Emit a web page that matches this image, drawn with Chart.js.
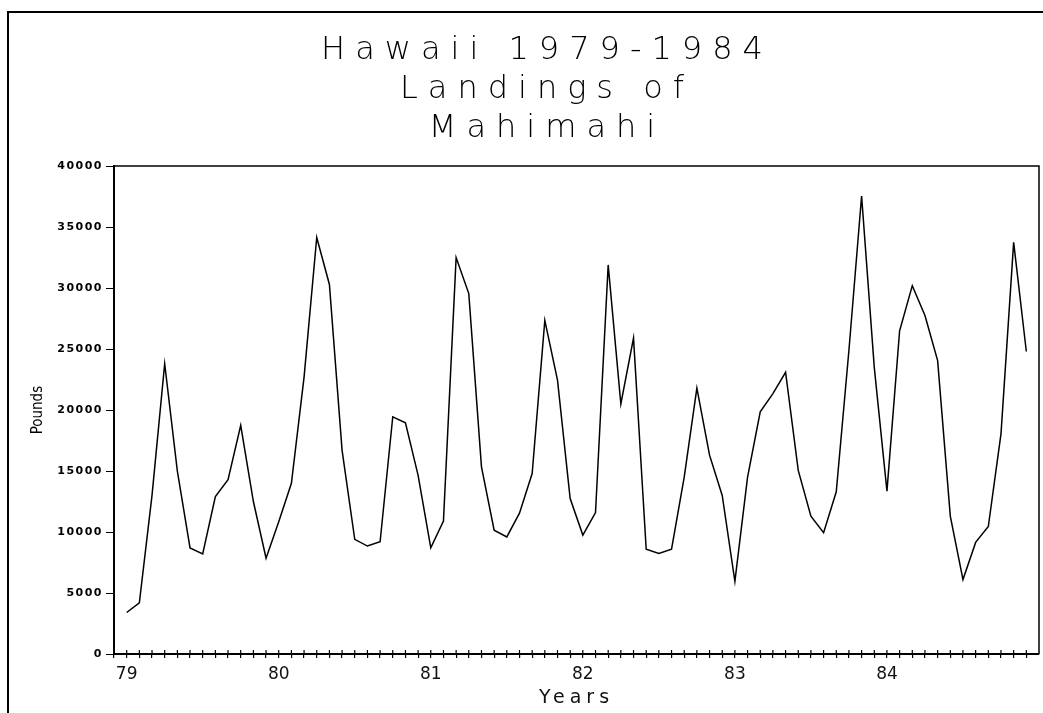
<!DOCTYPE html>
<html>
<head>
<meta charset="utf-8">
<script src="https://cdn.jsdelivr.net/npm/chart.js@4"></script>
<style>
  html, body { margin: 0; padding: 0; background: #fff; overflow: hidden; }
  #frame { position: absolute; left: 7px; top: 11px; width: 2000px; height: 2000px;
           border-left: 2px solid #000; border-top: 2px solid #000; }
  #wrap { position: absolute; left: 0; top: 0; width: 1043px; height: 713px; }
</style>
</head>
<body>
<div id="frame"></div>
<div id="wrap"><canvas id="grafica" width="1043" height="713"></canvas></div>
<script>
// monthly landings, Jan 1979 .. Dec 1984
var yearLabels = ['79', '80', '81', '82', '83', '84'];
var pounds = [
  3400, 4200, 13000, 23800, 15000, 8700, 8200, 12900, 14300, 18750, 12500, 7850,
  10850, 14000, 22700, 34150, 30300, 16700, 9400, 8850, 9200, 19450, 18950, 14650,
  8700, 10900, 32500, 29550, 15350, 10150, 9600, 11550, 14800, 27350, 22450, 12750,
  9750, 11600, 31900, 20500, 25900, 8600, 8250, 8600, 14500, 21800, 16300, 13000,
  5950, 14500, 19850, 21350, 23100, 15050, 11300, 9950, 13300, 24900, 37550, 23500,
  13350, 26500, 30200, 27750, 24050, 11300, 6100, 9150, 10450, 18050, 33750, 24800
];
var titleLines = ['Hawaii 1979-1984', 'Landings of', 'Mahimahi'];

// canvas letterSpacing for the plotter-like wide text
function conEspacio(obj, name, ls) {
  if (!obj || obj['_ls_' + name]) return;
  var orig = obj[name];
  obj[name] = function() {
    var ctx = this.ctx;
    var old = ctx.letterSpacing;
    ctx.letterSpacing = ls;
    orig.apply(this, arguments);
    ctx.letterSpacing = old;
  };
  obj['_ls_' + name] = true;
}

var espaciado = {
  id: 'espaciado',
  beforeDraw: function(chart) {
    conEspacio(chart.titleBlock, 'draw', '10px');
    conEspacio(chart.scales.x, 'drawTitle', '5px');
    conEspacio(chart.scales.y, 'drawLabels', '1.5px');
  }
};

// top/right box lines and the upper half of the x ticks
var marco = {
  id: 'marco',
  afterDraw: function(chart) {
    var ctx = chart.ctx, a = chart.chartArea, sx = chart.scales.x;
    ctx.save();
    ctx.strokeStyle = '#000';
    ctx.lineWidth = 1.5;
    ctx.beginPath();
    ctx.moveTo(a.left, a.top);
    ctx.lineTo(a.right, a.top);
    ctx.lineTo(a.right, a.bottom);
    ctx.stroke();
    ctx.lineWidth = 1.2;
    ctx.beginPath();
    sx.ticks.forEach(function(t) {
      var px = sx.getPixelForValue(t.value);
      ctx.moveTo(px, a.bottom - 4);
      ctx.lineTo(px, a.bottom);
    });
    ctx.stroke();
    ctx.restore();
  }
};

var ctx = document.getElementById('grafica').getContext('2d');
new Chart(ctx, {
  type: 'line',
  data: {
    datasets: [{
      label: 'Pounds',
      data: pounds.map(function(v, i) { return { x: i, y: v }; }),
      borderColor: '#000',
      borderWidth: 1.5,
      pointRadius: 0,
      tension: 0,
      fill: false
    }]
  },
  options: {
    responsive: false,
    animation: false,
    layout: { padding: { left: 55, right: 4, top: 0, bottom: 4 } },
    plugins: {
      legend: { display: false },
      tooltip: { enabled: false },
      title: {
        display: true,
        text: titleLines,
        color: '#000',
        font: { family: 'DejaVu Sans', size: 32, weight: '200', lineHeight: 1.22 },
        padding: { top: 31, bottom: 18 }
      }
    },
    scales: {
      x: {
        type: 'linear',
        min: -1,
        max: 72,
        afterFit: function(s) { s.height = 55; },
        border: { display: true, color: '#000', width: 2 },
        grid: { drawOnChartArea: false, drawTicks: true, tickLength: 4, color: '#000', lineWidth: 1.2 },
        ticks: {
          stepSize: 1,
          autoSkip: false,
          maxRotation: 0,
          padding: 6,
          color: '#111',
          font: { family: 'DejaVu Sans', size: 17 },
          callback: function(v) { return (v >= 0 && v % 12 === 0) ? yearLabels[v / 12] : ''; }
        },
        title: {
          display: true,
          text: 'Years',
          color: '#111',
          font: { family: 'DejaVu Sans', size: 19 },
          padding: { top: 0, bottom: 0 }
        }
      },
      y: {
        min: 0,
        max: 40000,
        afterFit: function(s) { s.width = 59; },
        border: { display: true, color: '#000', width: 2 },
        grid: { drawOnChartArea: false, drawTicks: true, tickLength: 8, color: '#000', lineWidth: 1 },
        ticks: {
          stepSize: 5000,
          padding: 3,
          color: '#000',
          font: { family: 'DejaVu Sans', size: 11, weight: 'bold' },
          callback: function(v) { return String(v); }
        },
        title: {
          display: true,
          text: 'Pounds',
          color: '#000',
          font: { family: 'DejaVu Sans Condensed', size: 15 },
          padding: { top: -26, bottom: 0 }
        }
      }
    }
  },
  plugins: [espaciado, marco]
});
</script>
</body>
</html>
